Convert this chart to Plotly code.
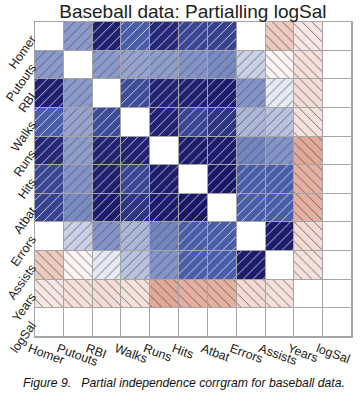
import plotly.graph_objects as go

variables = ["Homer", "Putouts", "RBI", "Walks", "Runs", "Hits", "Atbat",
             "Errors", "Assists", "Years", "logSal"]

# partial correlations (upper triangle rows), logSal partialled out -> 0
r_homer   = [1.00, 0.33, 0.90, 0.55, 0.85, 0.68, 0.70, 0.00, -0.22, -0.10, 0.00]
r_putouts = [0.33, 1.00, 0.33, 0.30, 0.32, 0.35, 0.38, 0.15, -0.04, -0.13, 0.00]
r_rbi     = [0.90, 0.33, 1.00, 0.65, 0.88, 0.90, 0.92, 0.35, 0.07, -0.14, 0.00]
r_walks   = [0.55, 0.30, 0.65, 1.00, 0.88, 0.68, 0.78, 0.24, 0.20, -0.12, 0.00]
r_runs    = [0.85, 0.32, 0.88, 0.88, 1.00, 0.92, 0.92, 0.40, 0.35, -0.35, 0.00]
r_hits    = [0.68, 0.35, 0.90, 0.68, 0.92, 1.00, 0.95, 0.55, 0.55, -0.32, 0.00]
r_atbat   = [0.70, 0.38, 0.92, 0.78, 0.92, 0.95, 1.00, 0.55, 0.55, -0.32, 0.00]
r_errors  = [0.00, 0.15, 0.35, 0.24, 0.40, 0.55, 0.55, 1.00, 0.92, -0.15, 0.00]
r_assists = [-0.22, -0.04, 0.07, 0.20, 0.35, 0.55, 0.55, 0.92, 1.00, -0.12, 0.00]
r_years   = [-0.10, -0.13, -0.14, -0.12, -0.35, -0.32, -0.32, -0.15, -0.12, 1.00, 0.00]
r_logsal  = [0.00, 0.00, 0.00, 0.00, 0.00, 0.00, 0.00, 0.00, 0.00, 0.00, 1.00]

rows = [r_homer, r_putouts, r_rbi, r_walks, r_runs, r_hits, r_atbat,
        r_errors, r_assists, r_years, r_logsal]

WHITE = (255, 255, 255)
MID = (80, 102, 176)
NAVY = (20, 14, 96)
SALMON = (215, 132, 108)
GRID = "rgb(165,165,165)"


def lerp(a, b, t):
    return tuple(int(round(a[k] + (b[k] - a[k]) * t)) for k in range(3))


def cell_color(v, diag):
    if diag:
        return "rgb(255,255,255)"
    if v >= 0:
        if v <= 0.5:
            c = lerp(WHITE, MID, v / 0.5)
        else:
            c = lerp(MID, NAVY, (v - 0.5) / 0.5)
    else:
        c = lerp(WHITE, SALMON, min(1.0, -v / 0.5))
    return "rgb(%d,%d,%d)" % c


def cell_shape(v, diag):
    if diag or abs(v) < 0.01:
        return ""
    return "/" if v > 0 else "\\"


n = len(variables)
fig = go.Figure()
for i, row in enumerate(rows):
    colors = [cell_color(v, i == j) for j, v in enumerate(row)]
    shapes = [cell_shape(v, i == j) for j, v in enumerate(row)]
    fig.add_trace(go.Bar(
        x=variables,
        y=[1] * n,
        base=[n - 1 - i] * n,
        width=1,
        cliponaxis=False,
        marker=dict(
            color=colors,
            line=dict(color=GRID, width=1),
            pattern=dict(shape=shapes, fgcolor="white", fgopacity=0.85,
                         fillmode="overlay", size=7, solidity=0.12),
        ),
        hoverinfo="skip",
        showlegend=False,
    ))

fig.update_layout(
    width=364, height=406,
    margin=dict(l=35, r=12, t=22, b=69, autoexpand=False),
    paper_bgcolor="white", plot_bgcolor="white",
    barmode="overlay", bargap=0,
    font=dict(family="Liberation Sans, Arial, sans-serif", size=12.5, color="#222"),
    title=dict(text="Baseball data: Partialling logSal", x=0.53, xanchor="center",
               y=0.972, yanchor="middle",
               font=dict(size=19, color="#222")),
    annotations=[dict(
        text="<i>Figure 9.   Partial independence corrgram for baseball data.</i>",
        xref="paper", yref="paper", x=0.47, y=-0.147, xanchor="center",
        yanchor="middle", showarrow=False,
        font=dict(size=12.2, color="#111"))],
)
fig.update_xaxes(range=[-0.5, n - 0.5], tickangle=20, showgrid=False,
                 zeroline=False, showline=True, mirror=True, linecolor=GRID,
                 linewidth=1, ticks="", automargin=False,
                 ticklabelshift=-20, ticklabelstandoff=-1,
                 tickfont=dict(size=12.5))
fig.update_yaxes(range=[0, n], tickvals=[n - 1 - i + 0.5 for i in range(n)],
                 ticktext=variables, tickangle=-55, showgrid=False,
                 zeroline=False, showline=True, mirror=True, linecolor=GRID,
                 linewidth=1, ticks="", automargin=False,
                 ticklabelshift=1, ticklabelstandoff=0,
                 tickfont=dict(size=12.5))

fig.write_html("out.html", post_script="document.body.style.margin='0';",
               config={"displayModeBar": False})
